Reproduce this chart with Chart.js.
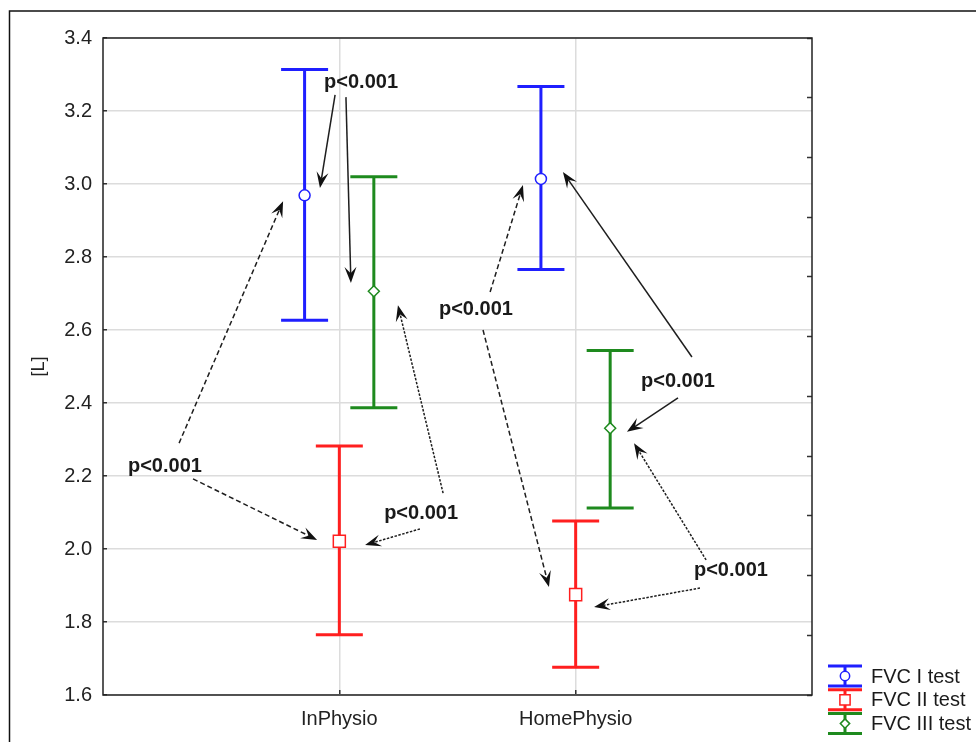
<!DOCTYPE html>
<html><head><meta charset="utf-8">
<script src="https://cdn.jsdelivr.net/npm/chart.js@4.4.1/dist/chart.umd.min.js"></script>
<style>html,body{margin:0;padding:0;background:#fff;}#wrap{width:976px;height:742px;position:relative;}</style>
</head><body><div id="wrap"><canvas id="c" width="976" height="742"></canvas></div>
<script>
// ---- data ----
const categories = ['InPhysio', 'HomePhysio'];
const seriesNames = ['FVC I test', 'FVC II test', 'FVC III test'];
const fvc1Mean  = [2.969, 3.014];
const fvc1Upper = [3.314, 3.267];
const fvc1Lower = [2.627, 2.766];
const fvc2Mean  = [2.021, 1.875];
const fvc2Upper = [2.282, 2.077];
const fvc2Lower = [1.765, 1.676];
const fvc3Mean  = [2.706, 2.331];
const fvc3Upper = [3.020, 2.544];
const fvc3Lower = [2.387, 2.112];
const yMin = 1.6, yMax = 3.4, yStep = 0.2;
const pLabelText = 'p<0.001';
// annotation anchors in data units [x, y]
const pLabelPos = [[1.092,3.279],[0.262,2.225],[1.346,2.096],[2.433,2.458],[2.657,1.942],[1.578,2.655]];
const arrowFrom = [[0.982,3.244],[1.028,3.238],[0.322,2.290],[0.381,2.192],[1.341,2.055],[1.439,2.153],
                   [2.492,2.526],[2.433,2.414],[2.552,1.970],[2.526,1.893],[1.638,2.704],[1.608,2.600]];
const arrowTo   = [[0.918,2.989],[1.049,2.729],[0.762,2.953],[0.906,2.025],[1.109,2.011],[1.248,2.668],
                   [1.946,3.033],[2.217,2.321],[2.247,2.290],[2.078,1.841],[1.777,2.997],[1.887,1.896]];
const arrowKind = ['solid','solid','dashed','dashed','dotted','dotted','solid','solid','dotted','dotted','dashed','dashed'];

// ---- styling ----
const FONT = '"Liberation Sans", Arial, sans-serif';
const colors = ['#1f1fff', '#ff1f1f', '#1e8a1e'];
const pointStyles = ['circle', 'rect', 'rectRot'];
const pointRadii = [5.5, 8.5, 5.5];
const offsets = [-0.147, 0, 0.146];
const means = [fvc1Mean, fvc2Mean, fvc3Mean];
const uppers = [fvc1Upper, fvc2Upper, fvc3Upper];
const lowers = [fvc1Lower, fvc2Lower, fvc3Lower];

const datasets = seriesNames.map((name, d) => ({
  label: name,
  data: categories.map((c, i) => ({x: i + 1 + offsets[d], y: means[d][i]})),
  upper: uppers[d], lower: lowers[d],
  borderColor: colors[d], backgroundColor: '#ffffff',
  pointStyle: pointStyles[d], pointRadius: pointRadii[d], pointHoverRadius: pointRadii[d],
  pointBorderWidth: 1.5, showLine: false
}));

function drawErrBar(ctx, x, yT, yM, yB, color, capHalf, lw) {
  ctx.save();
  ctx.strokeStyle = color; ctx.lineWidth = lw; ctx.lineCap = 'butt';
  ctx.beginPath();
  ctx.moveTo(x, yT); ctx.lineTo(x, yB);
  ctx.moveTo(x - capHalf, yT); ctx.lineTo(x + capHalf, yT);
  ctx.moveTo(x - capHalf, yB); ctx.lineTo(x + capHalf, yB);
  ctx.stroke();
  ctx.restore();
}

const errorBars = {
  id: 'errorBars',
  beforeDatasetsDraw(chart) {
    const {ctx, scales: {x, y}} = chart;
    chart.data.datasets.forEach((ds, d) => {
      ds.data.forEach((p, i) => {
        const px = x.getPixelForValue(p.x);
        drawErrBar(ctx, px, y.getPixelForValue(ds.upper[i]), y.getPixelForValue(p.y),
                   y.getPixelForValue(ds.lower[i]), ds.borderColor, 23.5, 3);
      });
    });
  }
};

function drawArrow(ctx, x1, y1, x2, y2, kind) {
  const a = Math.atan2(y2 - y1, x2 - x1), c = Math.cos(a), s = Math.sin(a);
  const L = 16, W = 6;
  ctx.save();
  ctx.strokeStyle = '#1e1e1e'; ctx.fillStyle = '#111';
  if (kind === 'solid') { ctx.lineWidth = 1.5; ctx.setLineDash([]); }
  else if (kind === 'dashed') { ctx.lineWidth = 1.5; ctx.setLineDash([5, 3]); }
  else { ctx.lineWidth = 1.5; ctx.setLineDash([2.5, 1.5]); }
  ctx.beginPath();
  ctx.moveTo(x1, y1);
  ctx.lineTo(x2 - c * L * 0.6, y2 - s * L * 0.6);
  ctx.stroke();
  ctx.setLineDash([]);
  ctx.beginPath();
  ctx.moveTo(x2, y2);
  ctx.lineTo(x2 - c * L + s * W, y2 - s * L - c * W);
  ctx.lineTo(x2 - c * L * 0.6, y2 - s * L * 0.6);
  ctx.lineTo(x2 - c * L - s * W, y2 - s * L + c * W);
  ctx.closePath();
  ctx.fill();
  ctx.restore();
}

const annotations = {
  id: 'annotations',
  afterDatasetsDraw(chart) {
    const {ctx, scales: {x, y}} = chart;
    arrowFrom.forEach((f, k) => {
      const t = arrowTo[k];
      drawArrow(ctx, x.getPixelForValue(f[0]), y.getPixelForValue(f[1]),
                x.getPixelForValue(t[0]), y.getPixelForValue(t[1]), arrowKind[k]);
    });
    ctx.save();
    ctx.font = 'bold 20px ' + FONT;
    ctx.fillStyle = '#1a1a1a'; ctx.textAlign = 'center'; ctx.textBaseline = 'middle';
    pLabelPos.forEach(p => ctx.fillText(pLabelText, x.getPixelForValue(p[0]), y.getPixelForValue(p[1])));
    ctx.restore();
  }
};

const frame = {
  id: 'frame',
  afterDraw(chart) {
    const {ctx, chartArea: ca} = chart;
    ctx.save();
    ctx.strokeStyle = '#222'; ctx.lineWidth = 1.5;
    ctx.strokeRect(ca.left, ca.top, ca.right - ca.left, ca.bottom - ca.top);
    // outer figure frame
    ctx.strokeStyle = '#111'; ctx.lineWidth = 1.5;
    ctx.beginPath();
    ctx.moveTo(9.5, chart.height + 2); ctx.lineTo(9.5, 11); ctx.lineTo(chart.width + 2, 11);
    ctx.stroke();
    // legend
    const lx = 845, ly0 = 676, dy = 23.8;
    chart.data.datasets.forEach((ds, d) => {
      const cy = ly0 + d * dy;
      drawErrBar(ctx, lx, cy - 10, cy, cy + 10, ds.borderColor, 17, 3);
      ctx.save();
      ctx.strokeStyle = ds.borderColor; ctx.fillStyle = '#fff'; ctx.lineWidth = 1.5;
      Chart.helpers.drawPoint(ctx, {pointStyle: ds.pointStyle, radius: ds.pointRadius * 0.85, borderWidth: 1.5}, lx, cy);
      ctx.restore();
      ctx.fillStyle = '#1a1a1a';
      ctx.font = '20px ' + FONT;
      ctx.textAlign = 'left'; ctx.textBaseline = 'middle';
      ctx.fillText(ds.label, 871, cy + 1);
    });
    ctx.restore();
  }
};

new Chart(document.getElementById('c'), {
  type: 'scatter',
  data: {datasets},
  plugins: [errorBars, annotations, frame],
  options: {
    responsive: false, animation: false, devicePixelRatio: 1,
    layout: {padding: {top: 38, right: 164, left: 0, bottom: 0}},
    plugins: {legend: {display: false}, tooltip: {enabled: false}},
    scales: {
      x: {
        type: 'linear', min: 0, max: 3,
        afterBuildTicks: s => { s.ticks = categories.map((c, i) => ({value: i + 1})); },
        afterFit: s => { s.height = 47; },
        ticks: {
          callback: v => categories[v - 1] || '',
          font: {family: FONT, size: 20}, color: '#222', padding: 17, maxRotation: 0, autoSkip: false
        },
        grid: {color: '#dcdcdc', lineWidth: 1.5, tickLength: -5, tickColor: '#333', tickWidth: 1.5},
        border: {display: false}
      },
      y: {
        type: 'linear', min: yMin, max: yMax,
        afterFit: s => { s.width = 103; },
        ticks: {
          stepSize: yStep, callback: v => v.toFixed(1),
          font: {family: FONT, size: 20}, color: '#222', padding: 15
        },
        grid: {color: '#dcdcdc', lineWidth: 1.5, tickLength: -4, tickColor: '#333', tickWidth: 1.5},
        border: {display: false},
        title: {display: true, text: '[L]', font: {family: FONT, size: 18}, color: '#222', padding: {top: 28, bottom: 0}}
      },
      y2: {
        type: 'linear', position: 'right', min: 0, max: 11,
        afterFit: s => { s.width = 0; },
        ticks: {stepSize: 1, display: false},
        grid: {drawOnChartArea: false, tickLength: -5, tickColor: '#333', tickWidth: 1.5},
        border: {display: false}
      }
    }
  }
});
</script>
</body></html>
